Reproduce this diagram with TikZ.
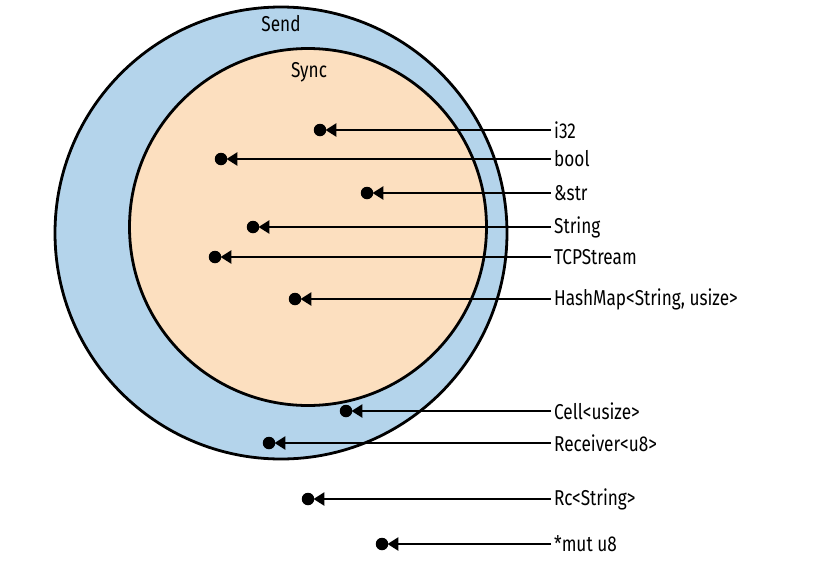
\documentclass[tikz,border=0pt]{standalone}
\usepackage{fontspec}
\setmainfont[FakeStretch=0.8]{Fira Sans}
\usetikzlibrary{arrows.meta}
\definecolor{sendblue}{RGB}{180,212,235}
\definecolor{syncpeach}{RGB}{252,223,191}
\begin{document}
\begin{tikzpicture}[x=1pt,y=-1pt,
  ring/.style={circle,draw=black,line width=2.8pt,inner sep=0pt},
  dotnode/.style={circle,fill=black,inner sep=0pt,minimum size=12.5pt},
  txtfont/.style={font=\fontsize{21.5}{24}\selectfont},
  lbl/.style={txtfont,anchor=west,inner sep=3pt},
  arr/.style={line width=2.6pt,-{Triangle[length=11pt,width=13pt]},shorten >=-1pt}]
\useasboundingbox (0,0) rectangle (820,568);
\node[ring,fill=sendblue,minimum size=452pt] (send) at (281,233) {};
\node[ring,fill=syncpeach,minimum size=357pt] (sync) at (308,227) {};
\node[txtfont] (sendlbl) at (281,24) {Send};
\node[txtfont] (synclbl) at (309,72) {Sync};
\foreach \name/\txt/\y/\dx in {
  i32/i32/130/320,
  bool/bool/159/221,
  str/\&str/193/367,
  string/String/227/253,
  tcp/TCPStream/257/215,
  hash/{HashMap<String, usize>}/299/295,
  cell/Cell<usize>/411/346,
  recv/Receiver<u8>/443/269,
  rc/Rc<String>/499/308,
  mut/*mut u8/544/382}{
  \node[lbl] (l\name) at (551,\y) {\txt};
  \node[dotnode] (d\name) at (\dx,\y) {};
  \draw[arr] (l\name.west) -- (d\name);
}
\end{tikzpicture}
\end{document}
